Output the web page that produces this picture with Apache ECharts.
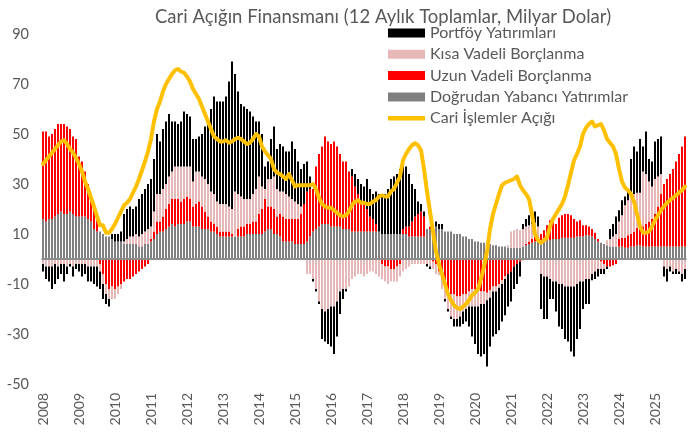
<!DOCTYPE html>
<html>
<head>
<meta charset="utf-8">
<script src="https://cdn.jsdelivr.net/npm/echarts@6/dist/echarts.min.js"></script>
<style>
  html, body { margin: 0; padding: 0; background: #fff; }
  #chart { width: 688px; height: 435px; }
</style>
</head>
<body>
<div id="chart"></div>
<script>
// yıllar (x ekseni etiketleri), veri Ocak 2008 - Kasım 2025 aylık
const years = ['2008', '2009', '2010', '2011', '2012', '2013', '2014', '2015', '2016',
  '2017', '2018', '2019', '2020', '2021', '2022', '2023', '2024', '2025']
const monthCount = 215

const yTicks = [-50, -30, -10, 10, 30, 50, 70, 90]

// Doğrudan Yabancı Yatırımlar
const fdi = [
  16, 15, 16, 16, 17, 18, 19, 18, 18, 19, 18, 17,
  17, 17, 17, 16, 15, 12, 11, 11, 10, 9, 9, 8,
  7, 7, 7, 6, 6, 6, 6, 6, 5, 5, 6, 6,
  7, 8, 10, 11, 11, 12, 13, 14, 13, 14, 14, 14,
  15, 15, 13, 13, 13, 12, 12, 12, 11, 11, 10, 9,
  9, 9, 9, 9, 9, 9, 9, 9, 10, 10, 10, 10,
  10, 10, 11, 12, 12, 10, 10, 9, 7, 7, 7, 7,
  6, 6, 6, 6, 7, 9, 11, 12, 13, 14, 14, 14,
  13, 13, 13, 13, 12, 12, 12, 11, 11, 11, 11, 11,
  11, 11, 11, 11, 11, 10, 10, 10, 10, 10, 10, 10,
  10, 10, 9, 9, 9, 9, 9, 9, 12, 12, 13, 13,
  12, 12, 11, 11, 11, 10, 10, 10, 9, 9, 8, 8,
  7, 7, 6.5, 6.5, 6, 6, 5.5, 5.5, 5, 5, 5, 4.5,
  4.5, 4.5, 4.5, 4.5, 5, 5.5, 6, 6.5, 7, 7, 7, 7.5,
  7.5, 7.5, 8, 8, 8, 8.5, 8.5, 8.5, 8.5, 8.5, 9, 9,
  9, 9.5, 9.5, 9, 8, 7, 6.5, 6, 5.5, 5, 5, 5,
  5, 5, 4.5, 4.5, 5, 5, 5.5, 5.5, 5, 5, 5, 5,
  5, 5, 5, 5, 5, 5, 5, 5, 5, 5, 5
]

// Uzun Vadeli Borçlanma
const longTerm = [
  35, 36, 33, 34, 35, 36, 35, 36, 35, 33, 31, 31,
  24, 22, 18, 14, 11, 9, 5, -2, -6, -10, -12, -11,
  -12, -11, -10, -9, -8, -8, -7, -6, -5, -4, -3, -2,
  1, 3, 5, 4, 6, 8, 9, 10, 11, 10, 9, 10,
  10, 9, 8, 9, 10, 9, 7, 5, 4, 3, 3, 2,
  2, 2, 2, 1, 0, 3, 4, 4, 4, 4, 5, 5,
  8, 10, 13, 9, 9, 10, 7, 9, 10, 9, 9, 9,
  10, 10, 12, 16, 20, 19, 17, 25, 29, 31, 35, 33,
  33, 34, 32, 29, 27, 27, 23, 22, 18, 15, 12, 11,
  9, 6, 5, 3, 0, -2, -3, -3, -4, -4, -3, -2,
  2, 3, 4, 6, 8, 9, 10, 8, 0, 1, -1, -2,
  -5, -8, -11, -13, -14, -14, -15, -15, -14, -14, -13, -12,
  -12, -13, -13, -13, -13.5, -12.5, -11, -11, -10, -8.5, -7, -6,
  -5, -3, -2, -1, -0.5, 0.5, 1, 1.5, 2, 2, 3, 4,
  6, 8, 7, 6, 8.5, 9, 9.5, 9.5, 9, 7.5, 6, 6.5,
  4.5, 4, 3.5, 3, 2.5, 1, -1, -2, -3, -3, -2.5, -2,
  3, 3.5, 4, 5, 5, 6, 7, 7, 8, 9, 10, 11,
  13, 16, 21, 25, 27, 29, 31, 34, 37, 40, 44
]

// Kısa Vadeli Borçlanma
const shortTerm = [
  -2, -3, -3, -3, -2, -3, -2, -2, -3, -2, -3, -2,
  -2, -2, -2, -3, -3, -3, -3, -3, -4, -4, -4, -5,
  -4, -3, -2, 1, 2, 3, 3, 4, 4, 5, 5, 6,
  5, 8, 11, 11, 11, 10, 11, 11, 13, 13, 14, 13,
  12, 13, 10, 13, 12, 12, 13, 13, 12, 12, 10, 11,
  11, 11, 10, 10, 18, 14, 12, 11, 10, 10, 11, 13,
  15, 9, 4, 11, 11, 13, 11, 9, 10, 10, 9, 8,
  7, 6, 3, 0, -6, -6, -8, -12, -17, -20, -21, -20,
  -19, -19, -17, -13, -12, -12, -11, -8, -7, -6, -6, -7,
  -6, -5, -5, -6, -7, -6, -6, -7, -5, -5, -6, -5,
  -5, -4, -3, -2, -2, -2, -2, -2, -2, -3, -3, -4,
  -1.5, -4, -5, -7, -9, -10, -9, -8, -7, -6, -6, -7,
  -7, -6, -5, -5, -3, -3, -2, -2, -1.5, -1.5, -1, 1,
  6.5, 7, 7.5, 7, 7, 7, 6.5, 6, 5.5, 4, -6, -7,
  -7, -8, -9, -9, -10, -10, -11, -11, -11, -11, -10, -9,
  -9, -8, -8, -6, -5, -4, -3, -2, 2, 3, 4, 5,
  7, 9, 13, 14, 15, 15, 14, 14, 22, 20, 16, 13,
  14, 12, 8, -3, -4, -3, -5, -4, -5, -6, -4
]

// Portföy Yatırımları
const portfolio = [
  -3, -5, -6, -9, -8, -5, -4, -7, -3, -1, -4, -2,
  -3, -5, -4, -6, -6, -7, -8, -7, -6, -4, -3, 2,
  3, 3, 4, 11, 12, 12, 11, 11, 15, 16, 17, 18,
  19, 21, 24, 21, 24, 25, 25, 20, 18, 17, 18, 22,
  21, 20, 17, 13, 14, 17, 21, 25, 33, 39, 40, 41,
  41, 43, 50, 59, 47, 41, 37, 37, 36, 35, 31, 27,
  22, 21, 9, 7, 16, 20, 16, 19, 18, 17, 18, 23,
  21, 17, 15, 16, 12, 5, -1, -1, -1, -12, -12, -14,
  -16, -19, -14, -9, -4, -1, 0, 3, 5, 6, 7, 7,
  12, 11, 10, 13, 15, 16, 16, 18, 22, 23, 24, 26,
  25, 24, 21, 15, 11, 5, 3, 2, -1, -1, 1, 2,
  2, 2, -1, -1, -1, -3, -3, -4, -5, -5, -8, -12,
  -15, -19, -21, -20, -26.5, -19.5, -18, -17, -17, -15, -14.5, -13,
  -12, -9, -8, -6, 2, 3, 4, 5, 4.5, 4, -14, -17,
  -17, -8, -7, -12, -17, -18, -21, -22, -26, -28, -22, -19,
  -11, -10, -10, -2.5, -3, -3, -2, -2, -1, 4, 5, 7,
  4.5, 6, 3.5, 3.5, 15, 19, 16.5, 21.5, 10, 17, 9, 10,
  15, 15, 15, -4, -5, -2, -1, -2, -1, -3, -4
]

// Cari İşlemler Açığı
const currentAccount = [
  38, 39.5, 41, 42.5, 44, 45.5, 47, 47.5, 46, 44, 42.5, 40.5,
  38, 35, 31, 28, 24.5, 21, 17, 13.5, 13.5, 10.5, 10.5, 12,
  14, 16.5, 19, 21.5, 22.5, 24, 26.5, 29, 32, 35.5, 39, 43,
  48, 55, 60, 63, 67, 70, 72, 74, 75.5, 76, 75, 74.5,
  73, 71, 68, 66, 64, 61, 58, 55, 52, 49, 48, 47,
  47, 47.5, 46.5, 47, 48, 48.5, 48, 47, 46, 46.5, 48, 50,
  49, 45, 43, 41.5, 40, 36, 34.5, 34, 33, 32, 34, 31.5,
  29, 29.5, 29.5, 29.5, 29.5, 29.5, 30, 28, 24.5, 22, 21, 20.5,
  20.5, 19.5, 18.5, 17.5, 17, 17.5, 19, 21.5, 23, 23.5, 22.5, 22.5,
  22, 22, 23, 23.5, 25, 25.5, 25, 25, 27, 28, 30.5, 33,
  39.5, 42, 44, 45.5, 46.3, 45.5, 43.5, 36, 27, 19, 11, 3,
  -2, -6, -10, -14, -16.5, -18.5, -19.5, -20, -19, -18, -16.5, -14.5,
  -13.5, -12, -8, -3, 3, 12, 18, 22, 26, 29.5, 30.5, 31,
  31.5, 32, 33, 29.5, 27.5, 26, 24, 18, 10, 7.5, 6.5, 7.5,
  8.5, 13, 16, 18, 20, 22, 25, 29.5, 34.5, 39.5, 42, 45,
  50, 52.5, 54, 55, 53, 53.5, 54, 51.5, 48, 46.5, 45, 42,
  36, 31, 28.5, 27.5, 26, 23, 18, 13, 10.5, 10.5, 11, 13,
  15.5, 17.5, 19.5, 21, 22.5, 23.5, 24.5, 25.5, 26.5, 27.5, 29
]

const months = []
years.forEach(y => {
  for (let m = 1; m <= 12; m++) {
    if (months.length < monthCount) months.push(y + '-' + (m < 10 ? '0' + m : m))
  }
})

const textColor = '#595959'
const font = 'Lato'

const chart = echarts.init(document.getElementById('chart'), null, { renderer: 'canvas' })

const barSeries = (name, data, color, extra) => Object.assign({
  name,
  type: 'bar',
  stack: 'fin',
  barWidth: 2,
  data,
  itemStyle: { color },
  emphasis: { disabled: true }
}, extra || {})

const option = {
  animation: false,
  backgroundColor: '#fff',
  title: {
    text: 'Cari Açığın Finansmanı (12 Aylık Toplamlar, Milyar Dolar)',
    left: 150,
    top: 3,
    textStyle: { color: textColor, fontSize: 18.5, fontWeight: 'normal', fontFamily: font }
  },
  legend: {
    orient: 'vertical',
    left: 388,
    top: 25,
    padding: 0,
    itemWidth: 37,
    itemHeight: 9,
    itemGap: 5.3,
    textStyle: { color: textColor, fontSize: 16, fontFamily: font },
    data: [
      { name: 'Portföy Yatırımları', icon: 'rect' },
      { name: 'Kısa Vadeli Borçlanma', icon: 'rect' },
      { name: 'Uzun Vadeli Borçlanma', icon: 'rect' },
      { name: 'Doğrudan Yabancı Yatırımlar', icon: 'rect' },
      { name: 'Cari İşlemler Açığı', icon: 'path://M0,0h37v4.5h-37z' }
    ]
  },
  grid: { left: 41.5, right: 1.5, top: 34, bottom: 51 },
  xAxis: {
    type: 'category',
    data: months,
    boundaryGap: true,
    axisLine: { show: false },
    axisTick: { show: false },
    axisLabel: {
      interval: 11,
      rotate: 90,
      margin: 9,
      color: textColor,
      fontSize: 14,
      fontFamily: font,
      formatter: v => v.slice(0, 4)
    }
  },
  yAxis: {
    type: 'value',
    min: yTicks[0],
    max: yTicks[yTicks.length - 1],
    interval: 20,
    axisLine: { show: false },
    axisTick: { show: false },
    splitLine: { show: false },
    axisLabel: { color: textColor, fontSize: 14.5, fontFamily: font, margin: 12.5 }
  },
  series: [
    barSeries('Doğrudan Yabancı Yatırımlar', fdi, '#808080', {
      markLine: {
        silent: true,
        symbol: ['none', 'none'],
        label: { show: false },
        lineStyle: { color: '#8c8c8c', width: 2, type: 'solid' },
        data: [{ yAxis: 0 }]
      }
    }),
    barSeries('Uzun Vadeli Borçlanma', longTerm, '#FF0000'),
    barSeries('Kısa Vadeli Borçlanma', shortTerm, '#E6B9B8'),
    barSeries('Portföy Yatırımları', portfolio, '#000000'),
    {
      name: 'Cari İşlemler Açığı',
      type: 'line',
      data: currentAccount,
      symbol: 'none',
      z: 5,
      lineStyle: { color: '#FFC000', width: 4, cap: 'round', join: 'round' },
      itemStyle: { color: '#FFC000' },
      emphasis: { disabled: true }
    }
  ]
}

chart.setOption(option)
</script>
</body>
</html>
